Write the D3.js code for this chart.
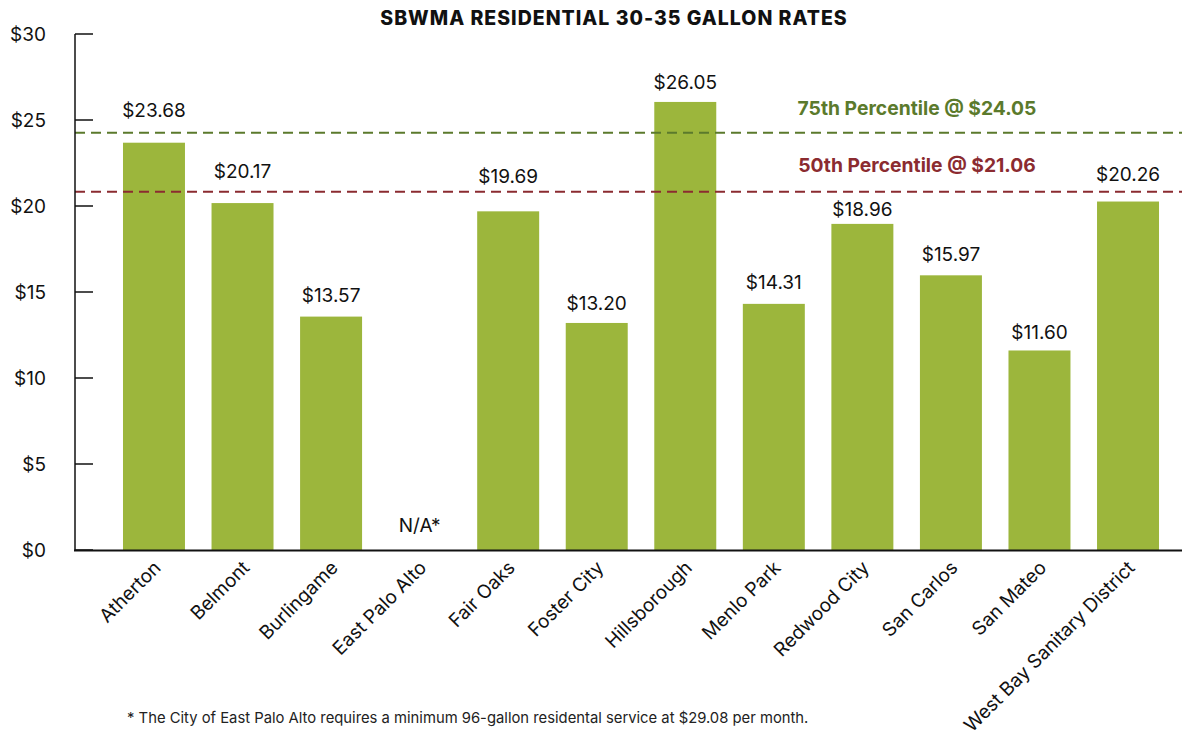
<!DOCTYPE html>
<html>
<head>
<meta charset="utf-8">
<script src="https://cdn.jsdelivr.net/npm/d3@7"></script>
<style>
  body { margin: 0; background: #fff; }
  svg { display: block; font-family: Inter, "Open Sans", sans-serif; }
</style>
</head>
<body>
<svg id="chart"></svg>
<script>
// Chart size
const width = 1182;
const height = 741;

// Data
const cities = ["Atherton", "Belmont", "Burlingame", "East Palo Alto", "Fair Oaks", "Foster City",
  "Hillsborough", "Menlo Park", "Redwood City", "San Carlos", "San Mateo", "West Bay Sanitary District"];
const rates = [23.68, 20.17, 13.57, null, 19.69, 13.20, 26.05, 14.31, 18.96, 15.97, 11.60, 20.26];
const yTicks = [0, 5, 10, 15, 20, 25, 30];
const percentileNames = ["75th Percentile", "50th Percentile"];
const percentileValues = [24.05, 21.06];
// where the dashed lines sit on the scale in the picture
const percentileLines = [24.26, 20.83];
const percentileColors = ["#5b7a2c", "#8b2b30"];

// label nudges (pixels above the bar top), placed by hand in the original
const labelLift = [26, 25, 15, 18, 28, 13, 13, 15, 8, 14, 11, 21];

const barColor = "#9cb63c";

const svg = d3.select("#chart")
    .attr("width", width)
    .attr("height", height);

// Scales
const x = d3.scaleBand()
    .domain(cities)
    .range([109.7, 1172.3])
    .paddingInner(0.3)
    .paddingOuter(0.15);

const y = d3.scaleLinear()
    .domain([0, 30])
    .range([550, 34]);

// Title
svg.append("text")
    .attr("x", 614)
    .attr("y", 25)
    .attr("text-anchor", "middle")
    .attr("font-size", 19.5)
    .attr("font-weight", 800)
    .attr("letter-spacing", 1)
    .attr("fill", "#111")
    .text("SBWMA RESIDENTIAL 30-35 GALLON RATES");

// Bars
svg.selectAll("rect.bar")
    .data(cities.map((c, i) => ({ city: c, value: rates[i] })).filter(d => d.value != null))
    .enter().append("rect")
    .attr("class", "bar")
    .attr("x", d => x(d.city))
    .attr("y", d => y(d.value))
    .attr("width", x.bandwidth())
    .attr("height", d => y(0) - y(d.value))
    .attr("fill", barColor);

// Percentile lines
svg.selectAll("line.pct")
    .data(percentileLines)
    .enter().append("line")
    .attr("class", "pct")
    .attr("x1", 75)
    .attr("x2", width)
    .attr("y1", d => y(d))
    .attr("y2", d => y(d))
    .attr("stroke", (d, i) => percentileColors[i])
    .attr("stroke-width", 2)
    .attr("stroke-dasharray", "10,6");

svg.selectAll("text.pct")
    .data(percentileLines)
    .enter().append("text")
    .attr("class", "pct")
    .attr("x", 917)
    .attr("y", (d, i) => y(d) - (i === 0 ? 18 : 20))
    .attr("text-anchor", "middle")
    .attr("font-size", 19.3)
    .attr("font-weight", 700)
    .attr("fill", (d, i) => percentileColors[i])
    .text((d, i) => `${percentileNames[i]} @ $${percentileValues[i].toFixed(2)}`);

// Value labels
svg.selectAll("text.val")
    .data(cities)
    .enter().append("text")
    .attr("class", "val")
    .attr("x", d => x(d) + x.bandwidth() / 2)
    .attr("y", (d, i) => (rates[i] == null ? y(0) : y(rates[i])) - labelLift[i])
    .attr("text-anchor", "middle")
    .attr("font-size", 19)
    .attr("fill", "#111")
    .text((d, i) => rates[i] == null ? "N/A*" : `$${rates[i].toFixed(2)}`);

// Y axis
const yAxis = svg.append("g");
yAxis.append("line")
    .attr("x1", 75).attr("x2", 75)
    .attr("y1", y(30)).attr("y2", y(0))
    .attr("stroke", "#111").attr("stroke-width", 1.5);
yAxis.selectAll("line.tick")
    .data(yTicks)
    .enter().append("line")
    .attr("x1", 75).attr("x2", 93)
    .attr("y1", d => y(d)).attr("y2", d => y(d))
    .attr("stroke", "#111").attr("stroke-width", 1.5);
yAxis.selectAll("text")
    .data(yTicks)
    .enter().append("text")
    .attr("x", 46)
    .attr("y", d => y(d))
    .attr("dy", "0.36em")
    .attr("text-anchor", "end")
    .attr("font-size", 19)
    .attr("fill", "#111")
    .text(d => `$${d}`);

// Baseline
svg.append("line")
    .attr("x1", 74).attr("x2", width)
    .attr("y1", y(0) + 0.5).attr("y2", y(0) + 0.5)
    .attr("stroke", "#111").attr("stroke-width", 2);

// Category labels
svg.selectAll("text.cat")
    .data(cities)
    .enter().append("text")
    .attr("class", "cat")
    .attr("transform", d => `translate(${x(d) + x.bandwidth() / 2 + 8},${569}) rotate(-45)`)
    .attr("text-anchor", "end")
    .attr("font-size", 19)
    .attr("fill", "#111")
    .text(d => d);

// Footnote
svg.append("text")
    .attr("x", 127)
    .attr("y", 723)
    .attr("font-size", 14.8)
    .attr("fill", "#222")
    .text("* The City of East Palo Alto requires a minimum 96-gallon residental service at $29.08 per month.");
</script>
</body>
</html>
